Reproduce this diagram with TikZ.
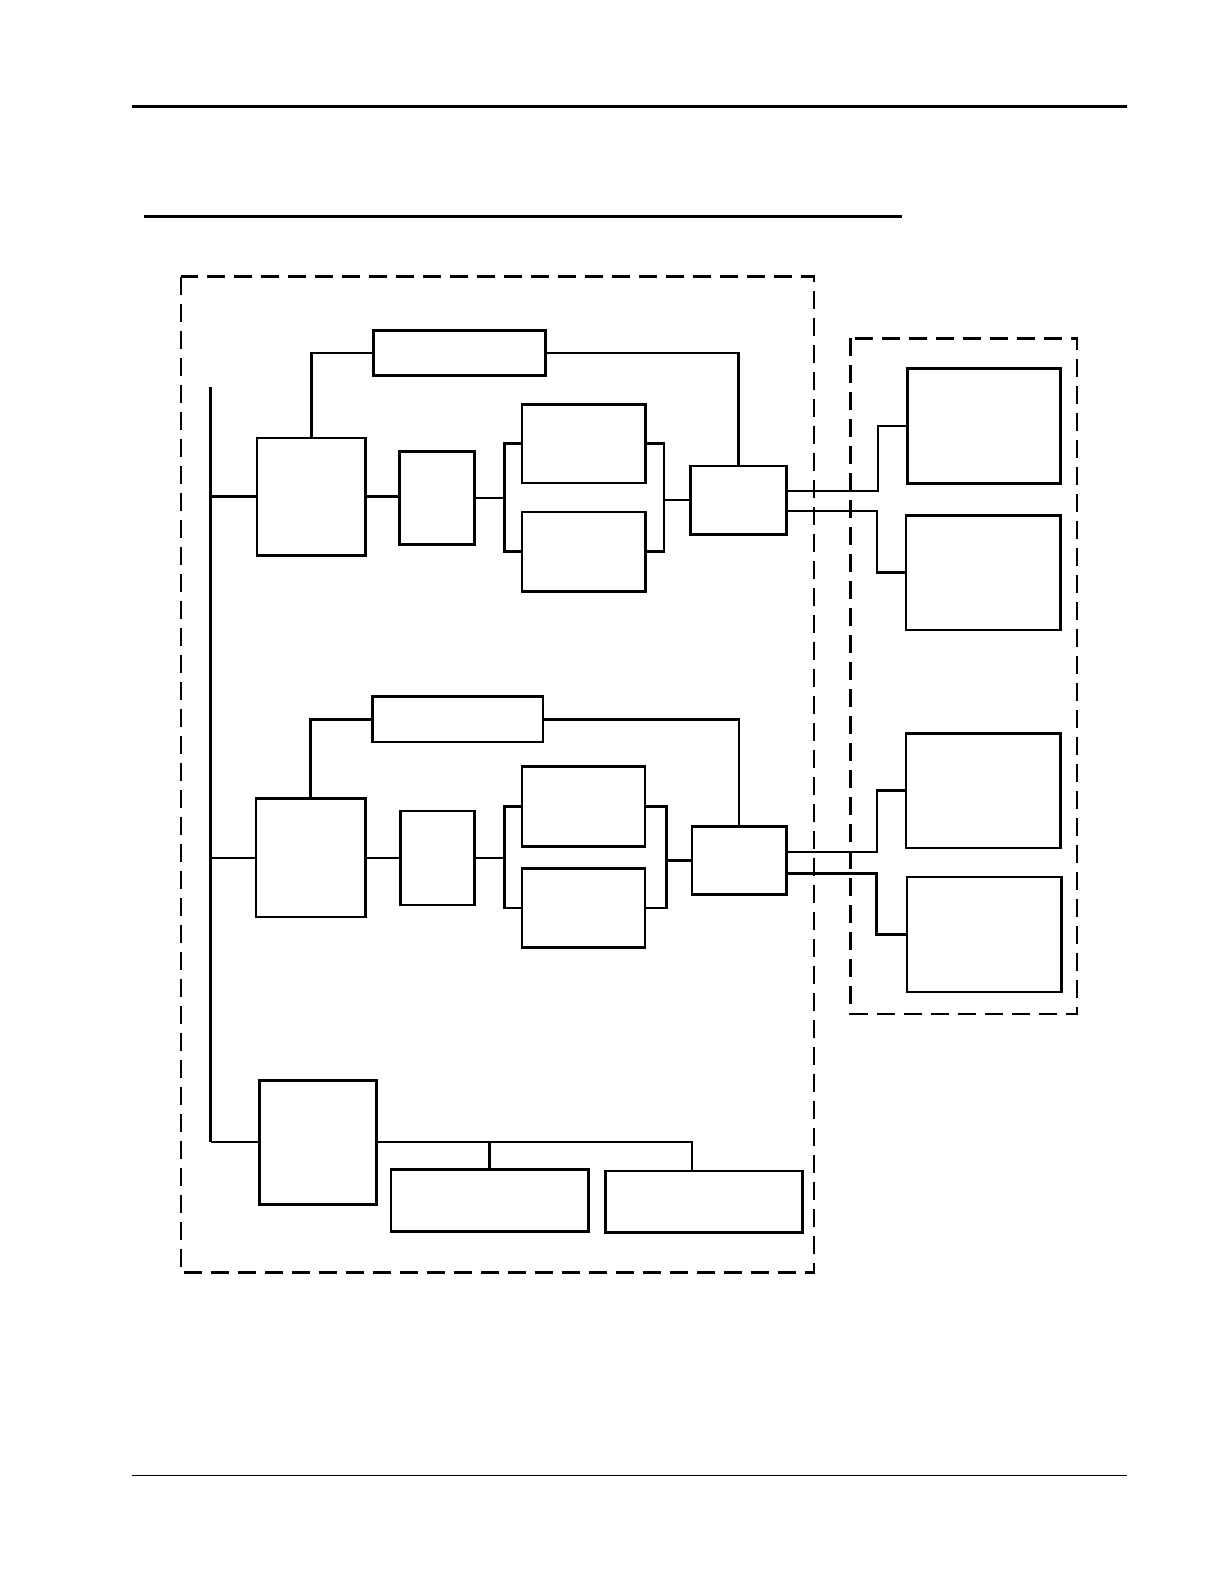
\documentclass[tikz,border=0pt]{standalone}

\tikzset{
  blk/.style={draw, line width=2.6pt, inner sep=0pt, anchor=north west},
  wire/.style={line width=2.6pt},
  frame/.style={line width=2.6pt, dash pattern=on 18pt off 9pt},
}

\begin{document}
\begin{tikzpicture}[x=1pt,y=-1pt]

\useasboundingbox (0,0) rectangle (1225,1585);

% page rules
\draw[line width=2.8pt] (132,106.7) -- (1126.8,106.7);
\draw[line width=2.8pt] (144.2,216.7) -- (902.4,216.7);
\draw[line width=1.4pt] (132,1475.3) -- (1126.8,1475.3);

% frames
\draw[frame] (180.8,276.7) rectangle (813.8,1272.3);
\draw[frame] (850.7,338.3) rectangle (1077,1014);

% first chain
\node[blk, minimum width=172.5pt, minimum height=45pt] (fb1) at (371.9,329) {};
\node[blk, minimum width=108.2pt, minimum height=117.3pt] (A1) at (255.8,436.7) {};
\node[blk, minimum width=75pt, minimum height=93pt] (B1) at (398,450) {};
\node[blk, minimum width=123.6pt, minimum height=78.7pt] (C11) at (520.7,403) {};
\node[blk, minimum width=123.6pt, minimum height=79.3pt] (C12) at (520.7,510.7) {};
\node[blk, minimum width=96.2pt, minimum height=68.3pt] (E1) at (689,464.7) {};

\draw[wire] (A1.north) |- (fb1.west);
\draw[wire] (fb1.east) -| (E1.north);
\draw[wire] (A1.east) -- (A1.east -| B1.west);
\draw[wire] (B1.east) -- ++(28.7,0) coordinate (s1);
\draw[wire] (C11.west) -| (s1) |- (C12.west);
\draw[wire] (C11.east) -- ++(17,0) coordinate (m1) |- (C12.east);
\draw[wire] (m1 |- E1.west) -- (E1.west);

% second chain
\node[blk, minimum width=170.7pt, minimum height=45.4pt] (fb2) at (371,695.4) {};
\node[blk, minimum width=109.2pt, minimum height=118.3pt] (A2) at (254.7,797.4) {};
\node[blk, minimum width=73.8pt, minimum height=94pt] (B2) at (399.2,809.6) {};
\node[blk, minimum width=123.3pt, minimum height=80pt] (C21) at (520.5,765) {};
\node[blk, minimum width=123.3pt, minimum height=79pt] (C22) at (520.5,867) {};
\node[blk, minimum width=94.3pt, minimum height=67.7pt] (E2) at (690.7,825.3) {};

\draw[wire] (A2.north) |- (fb2.west);
\draw[wire] (fb2.east) -| (E2.north);
\draw[wire] (A2.east) -- (A2.east -| B2.west);
\draw[wire] (B2.east) -- ++(29,0) coordinate (s2);
\draw[wire] (C21.west) -| (s2) |- (C22.west);
\draw[wire] (C21.east) -- ++(20,0) coordinate (m2) |- (C22.east);
\draw[wire] (m2 |- E2.west) -- (E2.west);

% third branch
\node[blk, minimum width=117.3pt, minimum height=124pt] (D) at (257.9,1079) {};
\node[blk, minimum width=197.3pt, minimum height=61.7pt] (G1) at (389.7,1168.3) {};
\node[blk, minimum width=197.4pt, minimum height=61.3pt] (G2) at (604,1169.7) {};

\draw[line width=1.8pt] (D.east) -| ([xshift=-12pt]G2.north);
\draw[wire] (G1.north |- D.east) -- (G1.north);

% bus
\coordinate (bus) at (210.6,387);
\draw[wire] (bus) -- (bus |- D.west);
\draw[wire] (bus |- A1.west) -- (A1.west);
\draw[wire] (bus |- A2.west) -- (A2.west);
\draw[line width=1.8pt] (bus |- D.west) -- (D.west);

% right side
\node[blk, minimum width=153pt, minimum height=115pt] (F1) at (906,367) {};
\node[blk, minimum width=154.3pt, minimum height=114.7pt] (F2) at (904.7,514) {};
\node[blk, minimum width=154.6pt, minimum height=114.7pt] (F3) at (904.7,732) {};
\node[blk, minimum width=154.3pt, minimum height=115pt] (F4) at (905.7,875.7) {};

\draw[wire] ([yshift=9pt]E1.east) -- ++(90,0) |- (F1.west);
\draw[wire] ([yshift=-11pt]E1.east) -- ++(89,0) |- (F2.west);
\draw[wire] ([yshift=8.5pt]E2.east) -- ++(89.3,0) |- (F3.west);
\draw[wire] ([yshift=-12.8pt]E2.east) -- ++(89,0) |- (F4.west);

\end{tikzpicture}
\end{document}
